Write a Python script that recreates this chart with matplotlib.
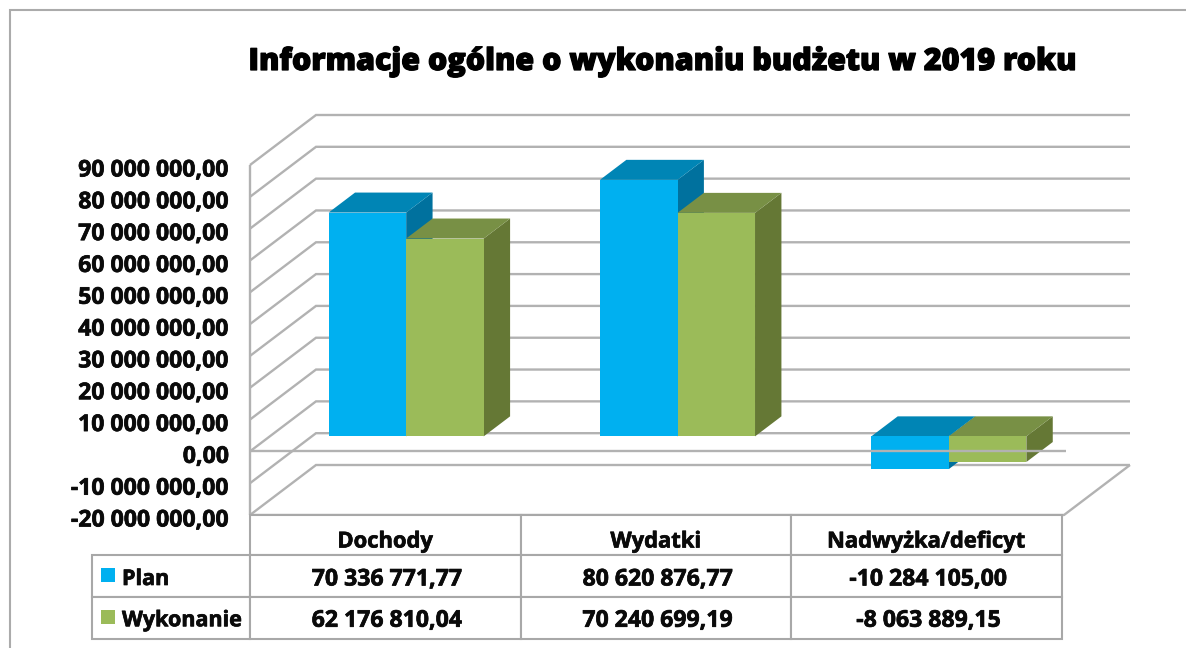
import matplotlib
matplotlib.use("Agg")
import matplotlib.pyplot as plt
import matplotlib.patheffects as pe
from matplotlib.lines import Line2D
from matplotlib.patches import Polygon, Rectangle
from matplotlib.table import Table
from matplotlib.transforms import Affine2D

# ---- data ----
title = "Informacje ogólne o wykonaniu budżetu w 2019 roku"
categories = ["Dochody", "Wydatki", "Nadwyżka/deficyt"]
plan = [70336771.77, 80620876.77, -10284105.00]
wykonanie = [62176810.04, 70240699.19, -8063889.15]
plan_labels = ["70 336 771,77", "80 620 876,77", "-10 284 105,00"]
wykonanie_labels = ["62 176 810,04", "70 240 699,19", "-8 063 889,15"]
series_names = ["Plan", "Wykonanie"]
tick_values = [90e6, 80e6, 70e6, 60e6, 50e6, 40e6, 30e6, 20e6, 10e6, 0, -10e6, -20e6]
tick_labels = ["90 000 000,00", "80 000 000,00", "70 000 000,00", "60 000 000,00",
               "50 000 000,00", "40 000 000,00", "30 000 000,00", "20 000 000,00",
               "10 000 000,00", "0,00", "-10 000 000,00", "-20 000 000,00"]

# ---- style ----
W, H = 1186, 648
FONT = "Open Sans"
TXT = "#0A0A0A"
SIZE = 16.6
HEAD_SIZE = 15.8
KEY_SIZE = 15.5
GRID = "#B2B2B2"
COLORS = {"Plan": ("#00B0F0", "#0085B5", "#00719E"),
          "Wykonanie": ("#9BBB59", "#789045", "#657835")}
FAT = [pe.withStroke(linewidth=0.5, foreground=TXT)]

fig = plt.figure(figsize=(W / 100, H / 100), dpi=100, facecolor="white")


def px_rect(x0, y0, x1, y1):
    return [x0 / W, 1 - y1 / H, (x1 - x0) / W, (y1 - y0) / H]


ax = fig.add_axes(px_rect(250, 165, 1064, 515))
ax.set_xlim(0, 3)
ax.set_ylim(-20e6, 90e6)
ax.patch.set_alpha(0)
for s in ax.spines.values():
    s.set_visible(False)
ax.set_xticks([])
ax.set_yticks(tick_values)
ax.set_yticklabels(tick_labels, fontfamily=FONT, fontweight="bold", fontsize=SIZE, color=TXT)
ax.tick_params(axis="y", length=0, pad=15)
for lab in ax.get_yticklabels():
    lab.set_transform(lab.get_transform() + Affine2D().translate(0, -2.5))
    lab.set_path_effects(FAT)

# Oblique depth of the 3-D box, in data units
DX = 66 / (814 / 3)
DY = 50 / (350 / 110e6)
grid_kw = dict(color=GRID, lw=1.7, clip_on=False, solid_capstyle="butt")

# back wall and left wall gridlines
for v in tick_values:
    ax.plot([0, DX, 3 + DX], [v, v + DY, v + DY], solid_joinstyle="miter", zorder=1, **grid_kw)
# left axis, floor
ax.plot([0, 0], [-20e6, 90e6], zorder=1, **grid_kw)
ax.plot([0, 3, 3 + DX], [-20e6, -20e6, -20e6 + DY], zorder=1, **grid_kw)

# bars
bar_w = 1 / 3.5
d0, d1 = 0.3, 0.7
shift = 0.7 / (814 / 3)
for i in range(3):
    for j, (name, vals) in enumerate(zip(series_names, (plan, wykonanie))):
        front, top, side = COLORS[name]
        v = vals[i]
        x0 = i + 0.5 + d0 * DX + (j - 1) * bar_w + shift
        x1 = x0 + bar_w
        base = d0 * DY
        hi = max(v, 0) + base
        lo = min(v, 0) + base
        ddx, ddy = (d1 - d0) * DX, (d1 - d0) * DY
        z = 2 + i + j * 0.1
        ax.add_patch(Polygon([(x1, lo), (x1 + ddx, lo + ddy), (x1 + ddx, hi + ddy), (x1, hi)],
                             fc=side, ec="none", clip_on=False, zorder=z))
        ax.add_patch(Polygon([(x0, hi), (x0 + ddx, hi + ddy), (x1 + ddx, hi + ddy), (x1, hi)],
                             fc=top, ec="none", clip_on=False, zorder=z))
        ax.bar(x0, hi - lo, width=bar_w, bottom=lo, align="edge", color=front, clip_on=False, zorder=z + 0.01)

# zero axis line, in front of the bars
ax.plot([0, 3 + 2 / (814 / 3)], [0, 0], zorder=6, **grid_kw)

# data table: the bbox covers the value columns, the name column hangs to its left
tx0, tx1, ty0, ty1 = 92, 1062, 515, 638.5
grid_w, th = tx1 - 250, ty1 - ty0
rows_px = [40, 42, 41.5]
text_drop = {0: (0, -7), 1: (1.5, -3.5), 2: (1.5, -3)}
col_px = grid_w / 3
key_px = 250 - tx0
tab = Table(ax, bbox=[0, (515 - ty1) / 350, grid_w / 814, th / 350])
tab.auto_set_font_size(False)
for c, label in enumerate(categories):
    tab.add_cell(0, c, col_px / 814, rows_px[0] / 350, text=label, loc="center")
for r, (name, labels) in enumerate(zip(series_names, (plan_labels, wykonanie_labels)), start=1):
    tab.add_cell(r, -1, key_px / 814, rows_px[r] / 350, text=name, loc="left")
    for c, label in enumerate(labels):
        tab.add_cell(r, c, col_px / 814, rows_px[r] / 350, text=label, loc="center")
for (r, c), cell in tab.get_celld().items():
    cell.set_edgecolor("#A8A8A8")
    cell.set_linewidth(1.5)
    cell.set_facecolor("white")
    cell.set_clip_on(False)
    t = cell.get_text()
    t.set_fontfamily(FONT)
    t.set_fontweight("bold")
    t.set_fontsize(HEAD_SIZE if r == 0 else (KEY_SIZE if c == -1 else SIZE))
    t.set_color(TXT)
    t.set_path_effects(FAT)
    dx, dy = text_drop[r]
    t.set_transform(Affine2D().translate(0 if c == -1 else dx, dy))
    if c == -1:
        cell.PAD = 30 / key_px
tab.set_zorder(3)
tab.set_clip_on(False)
ax.add_table(tab)

# table legend keys
for name, ytop in zip(series_names, (568, 610)):
    fig.add_artist(Rectangle((101 / W, 1 - (ytop + 14) / H), 14 / W, 14 / H,
                             transform=fig.transFigure, fc=COLORS[name][0], ec="none", zorder=10))

# chart border (runs off the right and bottom of the picture)
fig.add_artist(Line2D([10 / W, 10 / W, 1], [0, 1 - 10 / H, 1 - 10 / H], color="#ABABAB", lw=1.5,
                      solid_joinstyle="miter"))

fig.text(662 / W, 1 - 62 / H, title, ha="center", va="center", fontfamily=FONT,
         fontweight="extra bold", fontsize=21.9, color="black",
         path_effects=[pe.withStroke(linewidth=0.9, foreground="black")])

fig.savefig("out.png", dpi=100)
